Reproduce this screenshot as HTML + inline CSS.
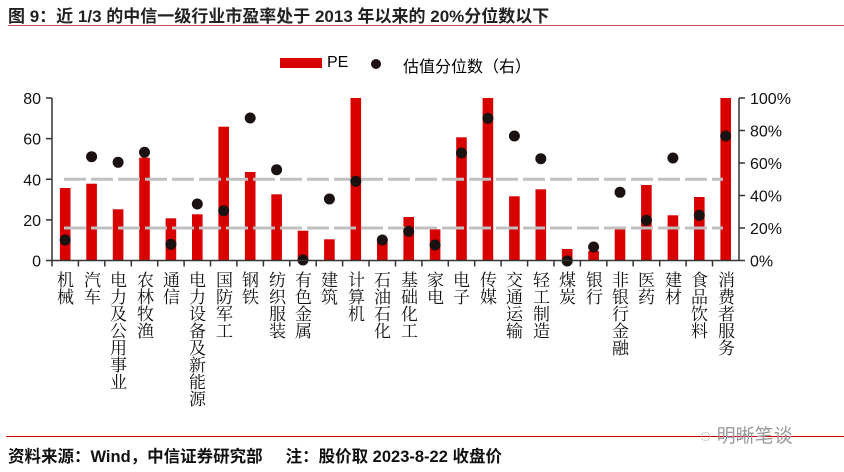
<!DOCTYPE html>
<html><head><meta charset="utf-8"><style>
html,body{margin:0;padding:0;background:#fff;}
body{width:844px;height:472px;position:relative;overflow:hidden;font-family:"Liberation Sans","Noto Sans CJK SC",sans-serif;}
.t{position:absolute;white-space:nowrap;color:#000;}
.xl{position:absolute;top:271px;width:18px;height:190px;writing-mode:vertical-rl;text-orientation:upright;white-space:nowrap;font-family:"Noto Serif CJK SC",serif;font-size:17px;line-height:18px;color:#111;}
</style></head><body>
<div class="t" style="left:8px;top:2px;font-size:17px;font-weight:bold;color:#222;">图 9：近 1/3 的中信一级行业市盈率处于 2013 年以来的 20%分位数以下</div>
<div style="position:absolute;left:8px;top:25px;width:836px;height:1px;background:#c0504d;"></div>
<svg width="844" height="472" style="position:absolute;left:0;top:0;">
<rect x="280" y="58" width="42" height="10" fill="#d90000"/>
<circle cx="376" cy="64" r="5" fill="#1a1110"/>
<g fill="#d90000">
<rect x="59.9" y="188" width="10.6" height="72.5"/>
<rect x="86.3" y="183.7" width="10.6" height="76.8"/>
<rect x="112.8" y="209.3" width="10.6" height="51.2"/>
<rect x="139.2" y="157.7" width="10.6" height="102.8"/>
<rect x="165.6" y="218.3" width="10.6" height="42.2"/>
<rect x="192" y="214.3" width="10.6" height="46.2"/>
<rect x="218.4" y="126.7" width="10.6" height="133.8"/>
<rect x="244.9" y="172" width="10.6" height="88.5"/>
<rect x="271.3" y="194.3" width="10.6" height="66.2"/>
<rect x="297.7" y="230.7" width="10.6" height="29.8"/>
<rect x="324.1" y="239.3" width="10.6" height="21.2"/>
<rect x="350.5" y="98" width="10.6" height="162.5"/>
<rect x="377" y="239" width="10.6" height="21.5"/>
<rect x="403.4" y="217" width="10.6" height="43.5"/>
<rect x="429.8" y="229.3" width="10.6" height="31.2"/>
<rect x="456.2" y="137.3" width="10.6" height="123.2"/>
<rect x="482.6" y="98" width="10.6" height="162.5"/>
<rect x="509.1" y="196.3" width="10.6" height="64.2"/>
<rect x="535.5" y="189.3" width="10.6" height="71.2"/>
<rect x="561.9" y="249" width="10.6" height="11.5"/>
<rect x="588.3" y="251" width="10.6" height="9.5"/>
<rect x="614.7" y="229" width="10.6" height="31.5"/>
<rect x="641.1" y="185" width="10.6" height="75.5"/>
<rect x="667.6" y="215.3" width="10.6" height="45.2"/>
<rect x="694" y="197" width="10.6" height="63.5"/>
<rect x="720.4" y="98" width="10.6" height="162.5"/>
</g>
<g stroke="#c0c0c0" stroke-width="3" stroke-dasharray="22,5">
<line x1="64" y1="179.3" x2="723" y2="179.3"/>
<line x1="64" y1="228" x2="723" y2="228"/>
</g>
<g fill="#1a1110">
<circle cx="65.2" cy="240" r="5.5"/>
<circle cx="91.6" cy="156.7" r="5.5"/>
<circle cx="118.1" cy="162.3" r="5.5"/>
<circle cx="144.5" cy="152.3" r="5.5"/>
<circle cx="170.9" cy="244.3" r="5.5"/>
<circle cx="197.3" cy="204" r="5.5"/>
<circle cx="223.7" cy="210.7" r="5.5"/>
<circle cx="250.2" cy="118" r="5.5"/>
<circle cx="276.6" cy="169.7" r="5.5"/>
<circle cx="303" cy="260" r="5.5"/>
<circle cx="329.4" cy="199" r="5.5"/>
<circle cx="355.8" cy="181.3" r="5.5"/>
<circle cx="382.3" cy="240" r="5.5"/>
<circle cx="408.7" cy="231.3" r="5.5"/>
<circle cx="435.1" cy="245" r="5.5"/>
<circle cx="461.5" cy="153" r="5.5"/>
<circle cx="487.9" cy="118.3" r="5.5"/>
<circle cx="514.4" cy="136" r="5.5"/>
<circle cx="540.8" cy="158.7" r="5.5"/>
<circle cx="567.2" cy="261" r="5.5"/>
<circle cx="593.6" cy="247" r="5.5"/>
<circle cx="620" cy="192.3" r="5.5"/>
<circle cx="646.4" cy="220.3" r="5.5"/>
<circle cx="672.9" cy="158" r="5.5"/>
<circle cx="699.3" cy="215.3" r="5.5"/>
<circle cx="725.7" cy="136" r="5.5"/>
</g>
<g stroke="#333" stroke-width="1.5" fill="none">
<line x1="52" y1="98" x2="52" y2="261"/>
<line x1="739" y1="98" x2="739" y2="261"/>
<line x1="52" y1="260.5" x2="739" y2="260.5"/>
<path d="M46 98H52M46 138.6H52M46 179.3H52M46 219.9H52M46 260.5H52"/>
<path d="M739 98H745M739 130.5H745M739 163H745M739 195.5H745M739 228H745M739 260.5H745"/>
<path d="M78.4 260.5v6M104.8 260.5v6M131.3 260.5v6M157.7 260.5v6M184.1 260.5v6M210.5 260.5v6M236.9 260.5v6M263.4 260.5v6M289.8 260.5v6M316.2 260.5v6M342.6 260.5v6M369 260.5v6M395.5 260.5v6M421.9 260.5v6M448.3 260.5v6M474.7 260.5v6M501.1 260.5v6M527.6 260.5v6M554 260.5v6M580.4 260.5v6M606.8 260.5v6M633.2 260.5v6M659.7 260.5v6M686.1 260.5v6M712.5 260.5v6M52 260.5v6"/>
</g>
<g font-family="Liberation Sans, sans-serif" font-size="16" fill="#111">
<text x="41" y="104" text-anchor="end">80</text>
<text x="41" y="144.6" text-anchor="end">60</text>
<text x="41" y="185.3" text-anchor="end">40</text>
<text x="41" y="225.9" text-anchor="end">20</text>
<text x="41" y="266.5" text-anchor="end">0</text>
<text x="750" y="104">100%</text>
<text x="750" y="136.5">80%</text>
<text x="750" y="169">60%</text>
<text x="750" y="201.5">40%</text>
<text x="750" y="234">20%</text>
<text x="750" y="266.5">0%</text>
</g>
</svg>
<div class="t" style="left:327px;top:54px;font-size:16px;">PE</div>
<div class="t" style="left:403px;top:53px;font-size:16px;">估值分位数（右）</div>
<div class="xl" style="left:56px;">机械</div>
<div class="xl" style="left:83px;">汽车</div>
<div class="xl" style="left:109px;">电力及公用事业</div>
<div class="xl" style="left:136px;">农林牧渔</div>
<div class="xl" style="left:162px;">通信</div>
<div class="xl" style="left:188px;">电力设备及新能源</div>
<div class="xl" style="left:215px;">国防军工</div>
<div class="xl" style="left:241px;">钢铁</div>
<div class="xl" style="left:268px;">纺织服装</div>
<div class="xl" style="left:294px;">有色金属</div>
<div class="xl" style="left:320px;">建筑</div>
<div class="xl" style="left:347px;">计算机</div>
<div class="xl" style="left:373px;">石油石化</div>
<div class="xl" style="left:400px;">基础化工</div>
<div class="xl" style="left:426px;">家电</div>
<div class="xl" style="left:452px;">电子</div>
<div class="xl" style="left:479px;">传媒</div>
<div class="xl" style="left:505px;">交通运输</div>
<div class="xl" style="left:532px;">轻工制造</div>
<div class="xl" style="left:558px;">煤炭</div>
<div class="xl" style="left:585px;">银行</div>
<div class="xl" style="left:611px;">非银行金融</div>
<div class="xl" style="left:637px;">医药</div>
<div class="xl" style="left:664px;">建材</div>
<div class="xl" style="left:690px;">食品饮料</div>
<div class="xl" style="left:717px;">消费者服务</div>
<div style="position:absolute;left:6px;top:436px;width:838px;height:1px;background:#d00000;"></div>
<div class="t" style="left:700px;top:421px;font-size:19px;color:#999;">◌ 明晰笔谈</div>
<div class="t" style="left:8px;top:443px;font-size:16.5px;font-weight:bold;color:#111;">资料来源：Wind，中信证券研究部&nbsp;&nbsp;&nbsp;&nbsp;&nbsp;注：股价取 2023-8-22 收盘价</div>
</body></html>
